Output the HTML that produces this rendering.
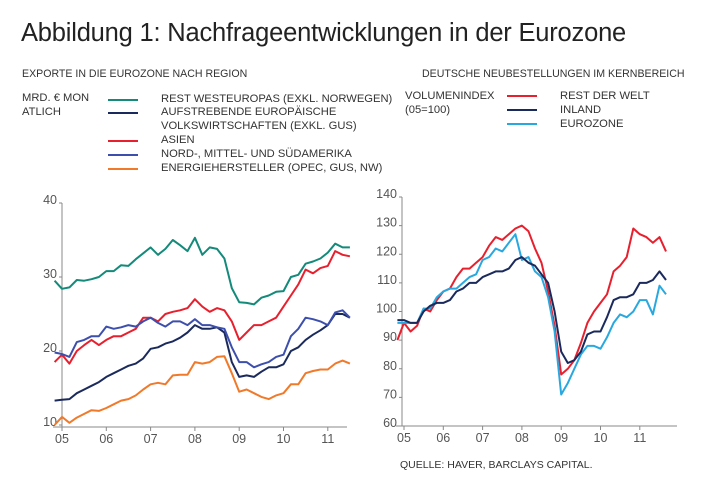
<!DOCTYPE html>
<html><head><meta charset="utf-8"><style>
body{margin:0;background:#fff;}
#root{position:relative;width:718px;height:483px;overflow:hidden;font-family:"Liberation Sans",sans-serif;color:#333;}
.t{position:absolute;font-size:11.2px;white-space:nowrap;letter-spacing:0px;line-height:13.5px;}
.sw{position:absolute;height:2px;width:30px;}
svg{position:absolute;left:0;top:0;}
</style></head><body>
<div id="root">
<div style="position:absolute;left:21px;top:19px;font-size:25.5px;color:#222;letter-spacing:-0.2px;">Abbildung 1: Nachfrageentwicklungen in der Eurozone</div>
<div class="t" style="left:22px;top:68px;font-size:10.6px;">EXPORTE IN DIE EUROZONE NACH REGION</div>
<div class="t" style="left:422px;top:68px;font-size:10.6px;">DEUTSCHE NEUBESTELLUNGEN IM KERNBEREICH</div>
<div class="t" style="left:22px;top:92px;">MRD. € MON<br>ATLICH</div>
<div class="t" style="left:405px;top:90px;">VOLUMENINDEX<br>(05=100)</div>
<div>
<div class="sw" style="left:108px;top:99px;background:#138a7a"></div>
<div class="t" style="left:161px;top:93px;">REST WESTEUROPAS (EXKL. NORWEGEN)</div>
<div class="sw" style="left:108px;top:112px;background:#1b2a5c"></div>
<div class="t" style="left:161px;top:106px;">AUFSTREBENDE EUROPÄISCHE<br>VOLKSWIRTSCHAFTEN (EXKL. GUS)</div>
<div class="sw" style="left:108px;top:140px;background:#e8202e"></div>
<div class="t" style="left:161px;top:134px;">ASIEN</div>
<div class="sw" style="left:108px;top:154px;background:#3d4fad"></div>
<div class="t" style="left:161px;top:148px;">NORD-, MITTEL- UND SÜDAMERIKA</div>
<div class="sw" style="left:108px;top:168px;background:#f07a2a"></div>
<div class="t" style="left:161px;top:162px;">ENERGIEHERSTELLER (OPEC, GUS, NW)</div>
</div>
<div>
<div class="sw" style="left:507px;top:95px;background:#e8202e"></div>
<div class="t" style="left:560px;top:90px;">REST DER WELT</div>
<div class="sw" style="left:507px;top:109px;background:#1b2a5c"></div>
<div class="t" style="left:560px;top:104px;">INLAND</div>
<div class="sw" style="left:507px;top:123px;background:#29a8e0"></div>
<div class="t" style="left:560px;top:118px;">EUROZONE</div>
</div>
<div class="t" style="left:400px;top:459px;font-size:10.5px;">QUELLE: HAVER, BARCLAYS CAPITAL.</div>
<svg id="chart" width="718" height="483"></svg>
</div>
<script>
const yearLabels=["05","06","07","08","09","10","11"];
const leftTicks=[10,20,30,40];
const rightTicks=[60,70,80,90,100,110,120,130,140];
// month index relative to Jan 2005, every 2 months from Nov 2004
const leftMonths=[-2,0,2,4,6,8,10,12,14,16,18,20,22,24,26,28,30,32,34,36,38,40,42,44,46,48,50,52,54,56,58,60,62,64,66,68,70,72,74,76,78];
const westeuropa=[29.5,28.4,28.6,29.6,29.5,29.7,30.0,30.8,30.8,31.6,31.5,32.4,33.2,34.0,33.0,33.8,35.0,34.3,33.5,35.3,33.0,34.0,33.8,32.5,28.5,26.6,26.5,26.3,27.2,27.5,28.0,28.1,30.0,30.3,31.8,32.1,32.5,33.3,34.5,34.0,34.0];
const asien=[18.5,19.5,18.3,20.0,20.8,21.5,20.8,21.5,22.0,22.0,22.5,23.0,24.5,24.5,24.0,25.0,25.3,25.5,25.8,27.0,26.0,25.3,25.8,25.5,24.0,21.5,22.5,23.5,23.5,24.0,24.5,26.0,27.5,29.0,31.0,30.5,31.2,31.5,33.5,33.0,32.8];
const amerika=[19.8,19.6,19.2,21.2,21.5,22.0,22.0,23.3,23.0,23.2,23.5,23.3,24.0,24.5,23.8,23.3,24.0,24.0,23.5,24.3,23.5,23.5,23.2,23.0,20.5,18.5,18.5,17.8,18.2,18.5,19.2,19.5,22.0,23.0,24.5,24.3,24.0,23.5,25.2,25.5,24.5];
const aufstrebende=[13.3,13.4,13.5,14.3,14.8,15.3,15.8,16.5,17.0,17.5,18.0,18.3,19.0,20.3,20.5,21.0,21.3,21.8,22.5,23.5,23.0,23.0,23.2,22.5,18.5,16.5,16.7,16.5,17.2,17.8,17.8,18.2,20.0,20.5,21.5,22.2,22.8,23.5,25.0,25.0,24.5];
const energie=[10.0,11.1,10.3,11.0,11.5,12.0,11.9,12.3,12.8,13.3,13.5,14.0,14.8,15.5,15.7,15.5,16.7,16.8,16.8,18.5,18.3,18.5,19.2,19.3,17.0,14.5,14.8,14.3,13.8,13.5,14.0,14.3,15.5,15.5,17.0,17.3,17.5,17.5,18.3,18.7,18.3];
const rightMonths=[-2,0,2,4,6,8,10,12,14,16,18,20,22,24,26,28,30,32,34,36,38,40,42,44,46,48,50,52,54,56,58,60,62,64,66,68,70,72,74,76,78,80];
const restWelt=[90,96,93,95,101,100,104,107,108,112,115,115,117,119,123,126,125,127,129,130,128,122,117,107,95,78,80,83,89,96,100,103,106,114,116,119,129,127,126,124,126,121];
const inland=[97,97,96,96,100,102,103,103,104,107,108,110,110,112,113,114,114,115,118,119,117,116,113,110,100,86,82,83,86,92,93,93,98,104,105,105,106,110,110,111,114,111];
const eurozone=[96,96,96,96,101,101,105,107,108,108,110,112,113,118,119,122,121,124,127,118,119,114,112,105,93,71,75,80,85,88,88,87,91,96,99,98,100,104,104,99,109,106];

const svg=document.getElementById('chart');
const NS='http://www.w3.org/2000/svg';
function mk(tag,attrs,name){const e=document.createElementNS(NS,tag);for(const k in attrs)e.setAttribute(k,attrs[k]);


svg.appendChild(e);return e;}
function panel(cfg){
  const xs=m=>cfg.x0+m*cfg.pm;
  const ys=v=>cfg.yTop+(cfg.vMax-v)*(cfg.yBot-cfg.yTop)/(cfg.vMax-cfg.vMin);
  mk('line',{x1:cfg.axX,y1:ys(cfg.vMax),x2:cfg.axX,y2:cfg.axisY,stroke:'#888','stroke-width':1},cfg.p+'-y-axis');
  mk('line',{x1:cfg.xStart,y1:cfg.axisY,x2:cfg.xEnd,y2:cfg.axisY,stroke:'#888','stroke-width':1},cfg.p+'-x-axis');
  cfg.ticks.forEach(v=>{
    mk('line',{x1:cfg.axX-3,y1:ys(v),x2:cfg.axX,y2:ys(v),stroke:'#888'},cfg.p+'-y-tick');
    const t=mk('text',{x:cfg.axX-5,y:ys(v)+1,'text-anchor':'end','font-size':12.5,fill:'#555','font-family':'Liberation Sans, sans-serif'},cfg.p+'-y-tick-label');
    t.textContent=v;
  });
  yearLabels.forEach((l,i)=>{
    const x=xs(i*12);
    mk('line',{x1:x,y1:cfg.axisY,x2:x,y2:cfg.axisY+4,stroke:'#888'},cfg.p+'-x-tick');
    const t=mk('text',{x:x,y:cfg.axisY+16,'text-anchor':'middle','font-size':12.5,fill:'#555','font-family':'Liberation Sans, sans-serif'},cfg.p+'-x-tick-label');
    t.textContent=l;
  });
  cfg.series.forEach(s=>{
    const d=s.v.map((v,i)=>(i?'L':'M')+xs(cfg.months[i]).toFixed(1)+','+ys(v).toFixed(1)).join('');
    mk('path',{d:d,fill:'none',stroke:s.c,'stroke-width':2,'stroke-linejoin':'round'},s.n);
  });
}
panel({p:'left',x0:62,pm:44.3/12,yTop:203,yBot:425,vMin:10,vMax:40,axX:62,axisY:427,xStart:53,xEnd:347,ticks:leftTicks,months:leftMonths,
 series:[{v:westeuropa,c:'#138a7a',n:'line-westeuropa'},{v:energie,c:'#f07a2a',n:'line-energie'},{v:aufstrebende,c:'#1b2a5c',n:'line-aufstrebende'},{v:asien,c:'#e8202e',n:'line-asien'},{v:amerika,c:'#3d4fad',n:'line-amerika'}]});
panel({p:'right',x0:404,pm:39.3/12,yTop:197,yBot:426,vMin:60,vMax:140,axX:402,axisY:426,xStart:396,xEnd:677,ticks:rightTicks,months:rightMonths,
 series:[{v:restWelt,c:'#e8202e',n:'line-rest-der-welt'},{v:eurozone,c:'#29a8e0',n:'line-eurozone'},{v:inland,c:'#1b2a5c',n:'line-inland'}]});
</script>
</body></html>
